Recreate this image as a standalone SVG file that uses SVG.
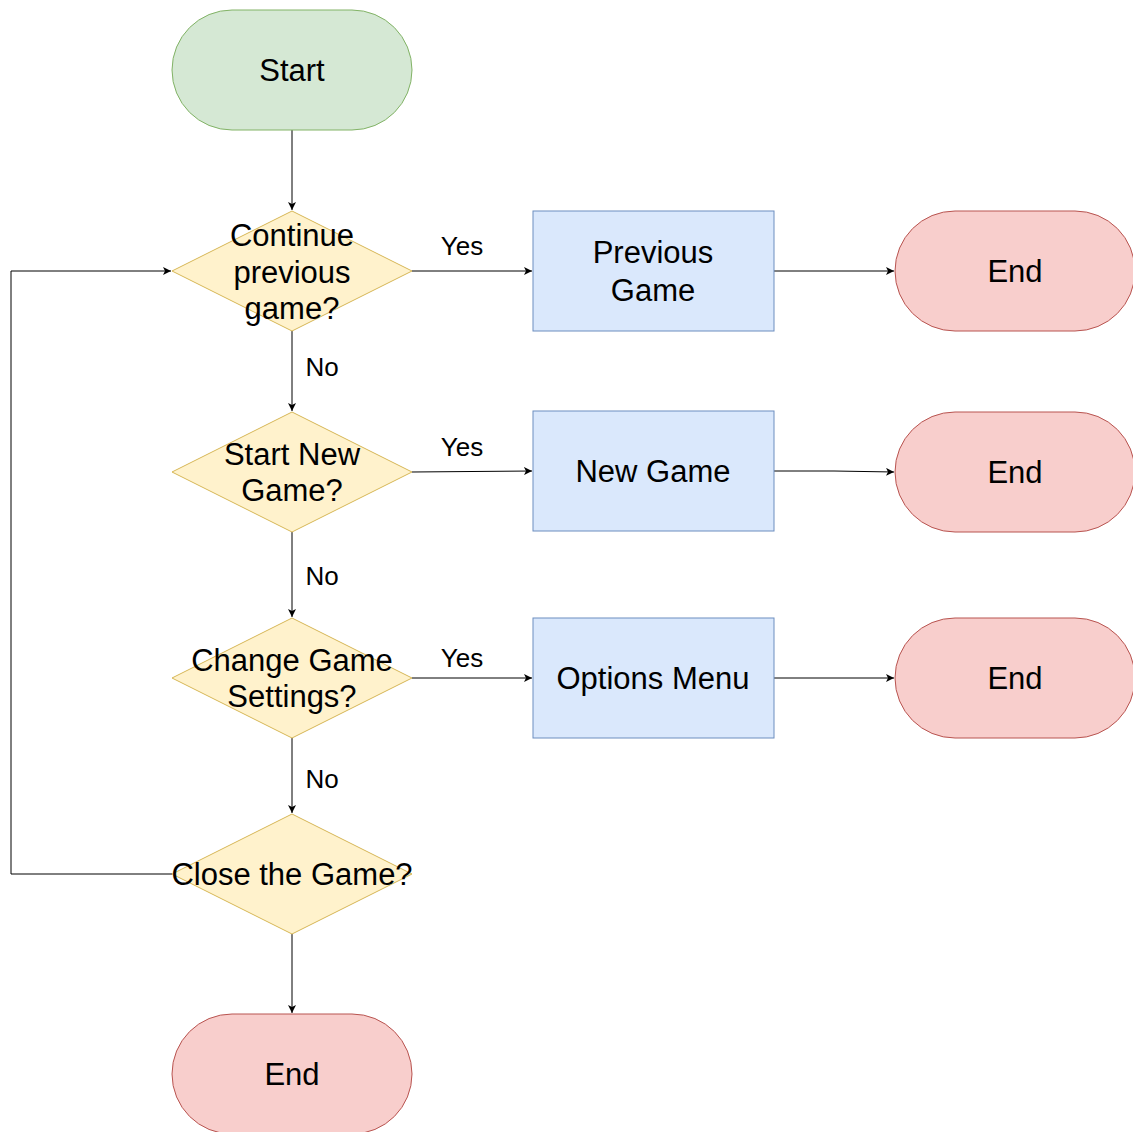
<svg xmlns="http://www.w3.org/2000/svg" width="1133" height="1132" viewBox="0 0 1133 1132">
<defs>
<marker id="arr" viewBox="0 0 10 10" refX="10" refY="5" markerWidth="8" markerHeight="8" markerUnits="userSpaceOnUse" orient="auto">
<path d="M0,0 L10,5 L0,10 L2.5,5 Z" fill="#000"/>
</marker>
<style>
.t{font-family:"Liberation Sans",Arial,sans-serif;font-size:31px;fill:#000;text-anchor:middle}
.l{font-family:"Liberation Sans",Arial,sans-serif;font-size:26px;fill:#000;text-anchor:middle}
.start{fill:#d5e8d4;stroke:#82b366;stroke-width:1}
.dec{fill:#fff2cc;stroke:#d6b656;stroke-width:1}
.proc{fill:#dae8fc;stroke:#6c8ebf;stroke-width:1}
.end{fill:#f8cecc;stroke:#b85450;stroke-width:1}
.c{fill:none;stroke:#000;stroke-width:1;marker-end:url(#arr)}
</style>
</defs>
<rect width="1133" height="1132" fill="#fff"/>
<g id="connectors">
<path class="c" d="M292,130 L292,210"/>
<path class="c" d="M412,271 L532,271"/>
<path class="c" d="M774,271 L894,271"/>
<path class="c" d="M292,331 L292,411"/>
<path class="c" d="M412,472 L532,471"/>
<path class="c" d="M774,471 L834,471 L894,472"/>
<path class="c" d="M292,532 L292,617"/>
<path class="c" d="M412,678 L532,678"/>
<path class="c" d="M774,678 L894,678"/>
<path class="c" d="M292,738 L292,813"/>
<path class="c" d="M292,934 L292,1013"/>
<path class="c" d="M172,874 L11,874 L11,271 L171,271"/>
<text class="l" x="462" y="255">Yes</text>
<text class="l" x="322" y="376">No</text>
<text class="l" x="462" y="456">Yes</text>
<text class="l" x="322" y="585">No</text>
<text class="l" x="462" y="667">Yes</text>
<text class="l" x="322" y="788">No</text>
</g>
<g id="start"><rect class="start" x="172" y="10" width="240" height="120" rx="60" ry="60"/><text class="t" x="292" y="81">Start</text></g>
<g id="dec1"><path class="dec" d="M292,211 L412,271 L292,331 L172,271 Z"/><text class="t" x="292" y="246">Continue</text><text class="t" x="292" y="283">previous</text><text class="t" x="292" y="319">game?</text></g>
<g id="prev"><rect class="proc" x="533" y="211" width="241" height="120"/><text class="t" x="653" y="263">Previous</text><text class="t" x="653" y="301">Game</text></g>
<g id="end1"><rect class="end" x="895" y="211" width="240" height="120" rx="60" ry="60"/><text class="t" x="1015" y="282">End</text></g>
<g id="dec2"><path class="dec" d="M292,412 L412,472 L292,532 L172,472 Z"/><text class="t" x="292" y="465">Start New</text><text class="t" x="292" y="501">Game?</text></g>
<g id="newgame"><rect class="proc" x="533" y="411" width="241" height="120"/><text class="t" x="653" y="482">New Game</text></g>
<g id="end2"><rect class="end" x="895" y="412" width="240" height="120" rx="60" ry="60"/><text class="t" x="1015" y="483">End</text></g>
<g id="dec3"><path class="dec" d="M292,618 L412,678 L292,738 L172,678 Z"/><text class="t" x="292" y="671">Change Game</text><text class="t" x="292" y="707">Settings?</text></g>
<g id="options"><rect class="proc" x="533" y="618" width="241" height="120"/><text class="t" x="653" y="689">Options Menu</text></g>
<g id="end3"><rect class="end" x="895" y="618" width="240" height="120" rx="60" ry="60"/><text class="t" x="1015" y="689">End</text></g>
<g id="dec4"><path class="dec" d="M292,814 L412,874 L292,934 L172,874 Z"/><text class="t" x="292" y="885">Close the Game?</text></g>
<g id="end4"><rect class="end" x="172" y="1014" width="240" height="120" rx="60" ry="60"/><text class="t" x="292" y="1085">End</text></g>
</svg>
